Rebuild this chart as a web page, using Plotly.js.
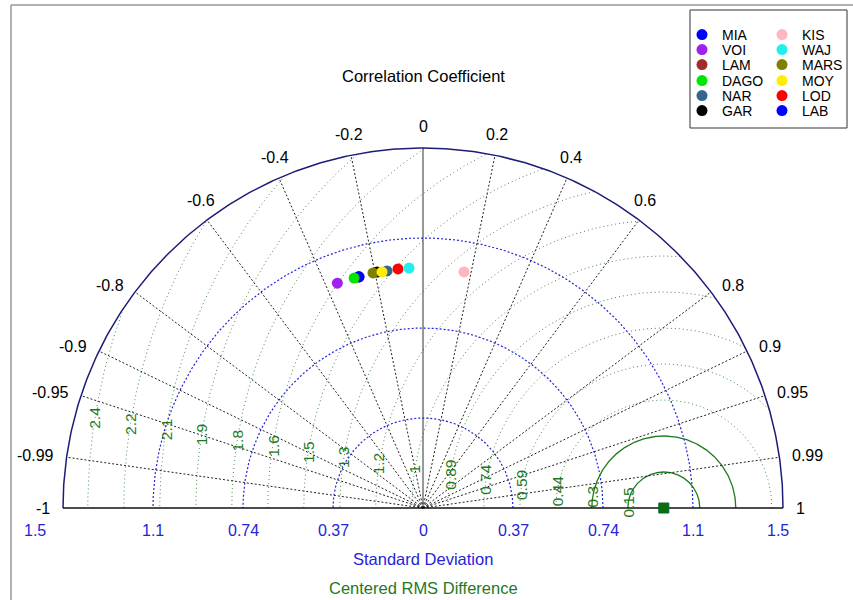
<!DOCTYPE html>
<html><head><meta charset="utf-8">
<script src="https://cdn.plot.ly/plotly-3.0.1.min.js"></script>
<style>html,body{margin:0;padding:0;background:#fff}</style>
</head><body><div id="chart" style="width:853px;height:600px"></div>
<script>
// ---- data ----
const corrTicks = [-1, -0.99, -0.95, -0.9, -0.8, -0.6, -0.4, -0.2, 0, 0.2, 0.4, 0.6, 0.8, 0.9, 0.95, 0.99, 1];
const corrLabels = ['-1','-0.99','-0.95','-0.9','-0.8','-0.6','-0.4','-0.2','0','0.2','0.4','0.6','0.8','0.9','0.95','0.99','1'];
const sdMax = 1.48;
const sdTicks = [0.37, 0.74, 1.11, 1.48];
const sdLabels = ['0.37', '0.74', '1.1', '1.5'];
const refSD = 0.99;
const rmsTicks = [0.148, 0.296, 0.444, 0.592, 0.74, 0.888, 1.036, 1.184, 1.332, 1.48, 1.628, 1.776, 1.924, 2.072, 2.22, 2.368];
const rmsLabels = ['0.15','0.3','0.44','0.59','0.74','0.89','1','1.2','1.3','1.5','1.6','1.8','1.9','2.1','2.2','2.4'];

// legend order (two columns)
const models = ['MIA','VOI','LAM','DAGO','NAR','GAR','KIS','WAJ','MARS','MOY','LOD','LAB'];
const colors = ['#0000ff','#a020f0','#a52a2a','#00e600','#35648f','#000000','#ffb6c1','#22eeee','#808000','#ffee00','#ff0000','#0000ff'];
const sdVals = [0.986, 0.989, 0.986, 0.987, 0.986, 0.988, 0.985, 0.988, 0.988, 0.985, 0.988, 0.986];
const corrVals = [-0.267, -0.356, -0.270, -0.287, -0.150, -0.191, 0.171, -0.058, -0.208, -0.171, -0.104, -0.267];
// drawing order (later on top)
const drawOrder = ['LAM','LAB','MIA','VOI','DAGO','NAR','GAR','MARS','MOY','LOD','WAJ','KIS'];

// ---- helpers ----
const blue = '#2424d8', green = '#1f7a1f', navy = '#1c1c78';
const font = 'Arial, "Liberation Sans", sans-serif';
function pol(r, c) { return [r * c, r * Math.sqrt(Math.max(0, 1 - c * c))]; }
function semicircle(r) {
  const xs = [], ys = [];
  for (let i = 0; i <= 360; i++) { const t = Math.PI * i / 360; xs.push(r * Math.cos(t)); ys.push(r * Math.sin(t)); }
  return [xs, ys];
}
const legendId = i => (i === 0 ? 'legend' : 'legend' + (i + 1));
const traces = [];
// blue SD circles
sdTicks.slice(0, -1).forEach(r => {
  const [xs, ys] = semicircle(r);
  traces.push({x: xs, y: ys, mode: 'lines', line: {color: blue, width: 1.2, dash: '2px,2px'}, hoverinfo: 'skip', showlegend: false});
});
// RMS arcs
rmsTicks.forEach((r, k) => {
  const xs = [], ys = [];
  for (let i = 0; i <= 720; i++) {
    const t = Math.PI * i / 720;
    const x = refSD + r * Math.cos(t), y = r * Math.sin(t);
    if (Math.hypot(x, y) <= sdMax + 1e-9) { xs.push(x); ys.push(y); }
  }
  traces.push({x: xs, y: ys, mode: 'lines', line: {color: k < 2 ? green : '#4a8a4a', width: k < 2 ? 1.3 : 1, dash: k < 2 ? 'solid' : '1px,3px'}, hoverinfo: 'skip', showlegend: false});
});
// correlation lines
{
  const xs = [], ys = [];
  corrTicks.forEach(c => { if (Math.abs(c) < 1 && c !== 0) { const p = pol(sdMax, c); xs.push(0, p[0], null); ys.push(0, p[1], null); } });
  traces.push({x: xs, y: ys, mode: 'lines', line: {color: '#222', width: 1, dash: '2px,2px'}, hoverinfo: 'skip', showlegend: false});
}
// zero correlation line
traces.push({x: [0, 0], y: [0, sdMax], mode: 'lines', line: {color: '#333', width: 1}, hoverinfo: 'skip', showlegend: false});
// outer arc
{ const [xs, ys] = semicircle(sdMax);
  traces.push({x: xs, y: ys, mode: 'lines', line: {color: navy, width: 1.5}, hoverinfo: 'skip', showlegend: false}); }
// base line
traces.push({x: [-sdMax, sdMax], y: [0, 0], mode: 'lines', line: {color: '#111', width: 1.3}, hoverinfo: 'skip', showlegend: false});
// reference point
traces.push({x: [refSD], y: [0], mode: 'markers', marker: {symbol: 'square', size: 10, color: '#0a6e0a', line: {color: '#063', width: 1}}, hoverinfo: 'skip', showlegend: false});
// model points (each in its own legend slot)
drawOrder.forEach(name => {
  const i = models.indexOf(name);
  const p = pol(sdVals[i], corrVals[i]);
  traces.push({x: [p[0]], y: [p[1]], mode: 'markers', name: name,
    marker: {size: 11, color: colors[i]}, legend: legendId(i), showlegend: true});
});

// annotations
const ann = [];
const rLab = sdMax * 1.03;
corrTicks.forEach((c, i) => {
  const p = pol(rLab, c);
  const side = Math.abs(c) > 0.7;
  ann.push({x: p[0], y: p[1], text: corrLabels[i], showarrow: false,
    xanchor: side ? (c > 0 ? 'left' : 'right') : 'center', yanchor: side ? 'middle' : 'bottom',
    font: {family: font, size: 16, color: '#000'}});
});
const ppu = 360 / sdMax;
const yTick = -22 / ppu;
ann.push({x: 0, y: yTick, text: '0', showarrow: false, yanchor: 'middle', font: {family: font, size: 16, color: blue}});
sdTicks.forEach((t, i) => {
  const shift = (i === sdTicks.length - 1) ? 28 / ppu : 0;
  ann.push({x: -t - shift, y: yTick, text: sdLabels[i], showarrow: false, yanchor: 'middle', font: {family: font, size: 16, color: blue}});
  ann.push({x: t - (i === sdTicks.length - 1 ? 5 / ppu : 0), y: yTick, text: sdLabels[i], showarrow: false, yanchor: 'middle', font: {family: font, size: 16, color: blue}});
});
const aLab = 171 * Math.PI / 180;
rmsTicks.forEach((r, i) => {
  ann.push({x: refSD + r * Math.cos(aLab), y: r * Math.sin(aLab), text: rmsLabels[i], showarrow: false, textangle: -90,
    font: {family: font, size: 15.5, color: green}});
});
ann.push({x: 0, y: (508 - 76) / ppu, text: 'Correlation Coefficient', showarrow: false, yanchor: 'middle', font: {family: font, size: 16.5, color: '#000'}});
ann.push({x: 0, y: (508 - 559) / ppu, text: 'Standard Deviation', showarrow: false, yanchor: 'middle', font: {family: font, size: 16.5, color: blue}});
ann.push({x: 0, y: (508 - 588) / ppu, text: 'Centered RMS Difference', showarrow: false, yanchor: 'middle', font: {family: font, size: 16.5, color: green}});

const W = 853, H = 600, ox = 423, oy = 508;
const layout = {
  width: W, height: H, autosize: false,
  margin: {l: 0, r: 0, t: 0, b: 0},
  paper_bgcolor: '#fff', plot_bgcolor: '#fff',
  xaxis: {range: [-ox / ppu, (W - ox) / ppu], visible: false, fixedrange: true},
  yaxis: {range: [-(H - oy) / ppu, oy / ppu], visible: false, fixedrange: true},
  annotations: ann,
  shapes: [
    {type: 'line', xref: 'paper', yref: 'paper', x0: 11 / W, x1: 11 / W, y0: 1 - 5 / H, y1: 0, line: {color: '#999', width: 1.5}},
    {type: 'line', xref: 'paper', yref: 'paper', x0: 11 / W, x1: 1, y0: 1 - 5 / H, y1: 1 - 5 / H, line: {color: '#999', width: 1.5}},
    {type: 'rect', xref: 'paper', yref: 'paper', x0: 690 / W, x1: 847 / W, y0: 1 - 10 / H, y1: 1 - 128 / H, line: {color: '#333', width: 1}}
  ]
};
const rowY = [35, 50, 65, 81, 96, 111];
const colX = [682, 762];
models.forEach((m, i) => {
  layout[legendId(i)] = {
    x: colX[Math.floor(i / 6)] / W, xanchor: 'left', y: 1 - rowY[i % 6] / H, yanchor: 'middle',
    bgcolor: 'rgba(0,0,0,0)', borderwidth: 0, itemclick: false, itemdoubleclick: false,
    font: {family: font, size: 14, color: '#000'}
  };
});
Plotly.newPlot('chart', traces, layout, {displayModeBar: false, staticPlot: true});
</script></body></html>
